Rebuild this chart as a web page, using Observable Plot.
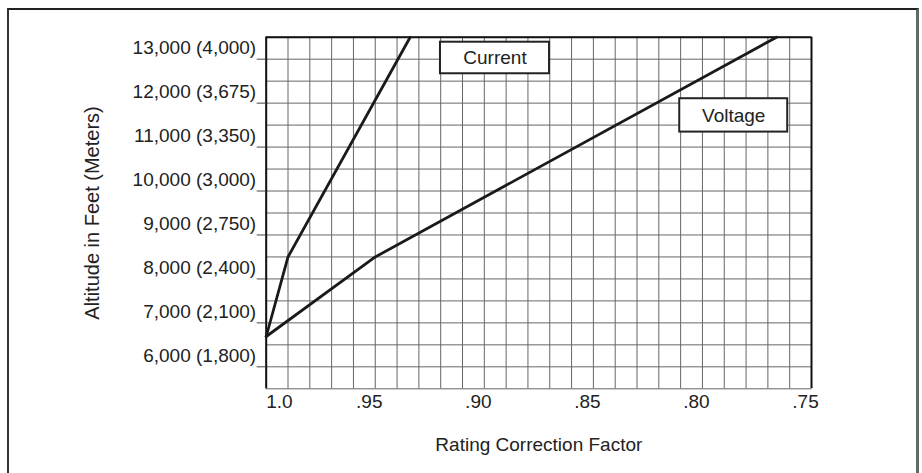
<!DOCTYPE html>
<html><head><meta charset="utf-8">
<script src="https://cdn.jsdelivr.net/npm/d3@7"></script>
<script src="https://cdn.jsdelivr.net/npm/@observablehq/plot@0.6"></script>
<style>
html,body{margin:0;padding:0;background:#fff;overflow:hidden;width:922px;height:473px}
#wrap{position:relative;width:922px;height:473px}
#frame{position:absolute;left:7px;top:8px;width:907px;height:520px;border-top:2px solid #222;border-left:2px solid #333;border-right:3px solid #666;box-sizing:content-box}
#chart{position:absolute;left:0;top:0}
</style></head><body>
<div id="wrap"><div id="frame"></div><div id="chart"></div></div>
<script>
// Series (rating correction factor vs. altitude in feet)
const currentFactor   = [1.0, 0.99, 0.934];
const currentAltitude = [6440, 8250, 13250];
const voltageFactor   = [1.0, 0.95, 0.766];
const voltageAltitude = [6440, 8250, 13250];

// Axis tick labels
const yTickValues = [13000, 12000, 11000, 10000, 9000, 8000, 7000, 6000];
const yTickLabels = ["13,000 (4,000)", "12,000 (3,675)", "11,000 (3,350)", "10,000 (3,000)",
                     "9,000 (2,750)", "8,000 (2,400)", "7,000 (2,100)", "6,000 (1,800)"];
const yTickMarks  = [12750, 11750, 10750, 9750, 8750, 7750, 6750, 5750];
const xTickValues = [1.0, 0.95, 0.90, 0.85, 0.80, 0.75];
const xTickLabels = ["1.0", ".95", ".90", ".85", ".80", ".75"];

// Grid lines
const xGrid = [1.00,0.99,0.98,0.97,0.96,0.95,0.94,0.93,0.92,0.91,0.90,0.89,0.88,0.87,0.86,0.85,
               0.84,0.83,0.82,0.81,0.80,0.79,0.78,0.77,0.76,0.75];
const yGrid = [5250,5750,6250,6750,7250,7750,8250,8750,9250,9750,10250,10750,11250,11750,12250,12750,13250];

// Label boxes (data coordinates)
const boxLabels = ["Current", "Voltage"];
const boxX1 = [0.9201, 0.8104];
const boxX2 = [0.8701, 0.7609];
const boxY1 = [13136, 11850];
const boxY2 = [12418, 11091];

const current = currentFactor.map((f, i) => ({f, a: currentAltitude[i]}));
const voltage = voltageFactor.map((f, i) => ({f, a: voltageAltitude[i]}));
const boxes = boxLabels.map((label, i) => ({label, x1: boxX1[i], x2: boxX2[i], y1: boxY1[i], y2: boxY2[i]}));
const yLab = yTickValues.map((v, i) => ({v, t: yTickLabels[i]}));
const xLab = xTickValues.map((v, i) => ({v, t: xTickLabels[i]}));

const FS = 19;
const chart = Plot.plot({
  width: 922, height: 473,
  marginLeft: 265.7, marginRight: 111, marginTop: 36.7, marginBottom: 84.7,
  style: {fontFamily: "'Liberation Sans', Arial, Helvetica, sans-serif", fontSize: "19px", color: "#222", background: "transparent"},
  x: {domain: [1.0, 0.75], axis: null},
  y: {domain: [5250, 13250]},
  marks: [
    Plot.ruleX(xGrid, {stroke: "#666", strokeWidth: 1}),
    Plot.ruleY(yGrid, {stroke: "#666", strokeWidth: 1}),
    Plot.ruleX([1.0], {stroke: "#111", strokeWidth: 2}),
    Plot.ruleX([0.75], {stroke: "#111", strokeWidth: 2}),
    Plot.ruleY([13250], {stroke: "#111", strokeWidth: 2}),
    Plot.axisY({ticks: yTickMarks, tickSize: 9, tickFormat: () => "", label: null, stroke: "#444"}),
    Plot.text(yLab, {y: "v", text: "t", frameAnchor: "left", textAnchor: "end", dx: -10, fontSize: FS, fill: "#222"}),
    Plot.text(xLab.slice(0, 1), {x: "v", text: "t", frameAnchor: "bottom", textAnchor: "start", dy: 19, fontSize: FS, fill: "#222"}),
    Plot.text(xLab.slice(1), {x: "v", text: "t", frameAnchor: "bottom", textAnchor: "middle", dx: -6, dy: 19, fontSize: FS, fill: "#222"}),
    Plot.line(current, {x: "f", y: "a", stroke: "#1a1a1a", strokeWidth: 2.8, strokeLinejoin: "miter"}),
    Plot.line(voltage, {x: "f", y: "a", stroke: "#1a1a1a", strokeWidth: 2.8, strokeLinejoin: "miter"}),
    Plot.rect(boxes, {x1: "x1", x2: "x2", y1: "y1", y2: "y2", fill: "white", stroke: "#222", strokeWidth: 2}),
    Plot.text(boxes, {x: d => (d.x1 + d.x2) / 2, y: d => (d.y1 + d.y2) / 2, text: "label", fontSize: FS, fill: "#222"}),
    Plot.text(["Altitude in Feet (Meters)"], {frameAnchor: "left", textAnchor: "middle", dx: -174, rotate: -90, fontSize: 20, fill: "#222"}),
    Plot.text(["Rating Correction Factor"], {frameAnchor: "bottom", textAnchor: "middle", dy: 62, fontSize: FS, fill: "#222"})
  ]
});
document.getElementById("chart").appendChild(chart);
</script>
</body></html>
